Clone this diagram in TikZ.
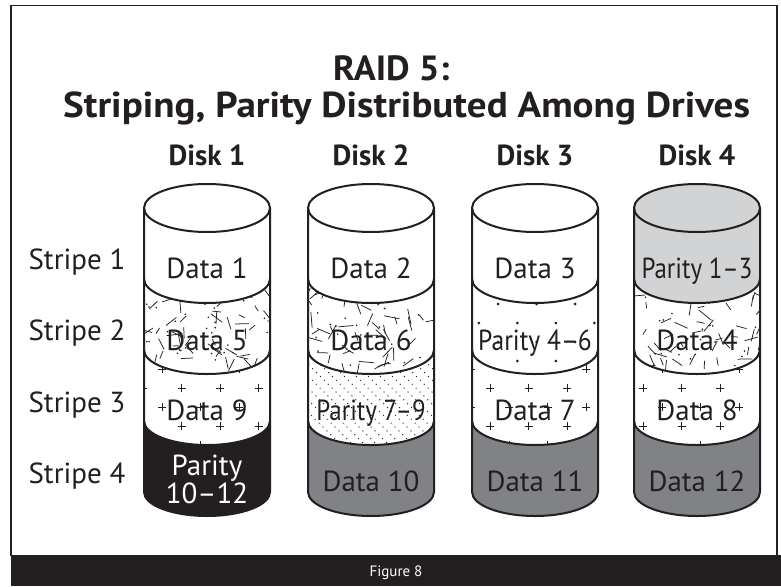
\documentclass[tikz,border=0pt]{standalone}
\usepackage{fontspec}
\setmainfont{PT Sans}
\definecolor{ink}{HTML}{231F20}
\definecolor{midgray}{HTML}{808285}
\definecolor{palegray}{HTML}{D1D3D4}
% fill of the top stripe (includes top ellipse)
\newcommand\topstripe[3]{\fill[#3] (#1-63,-208) arc[start angle=180,end angle=0,x radius=63,y radius=24] -- (#1+63,-#2) arc[start angle=0,end angle=-180,x radius=63,y radius=24] -- cycle;}
\newcommand\midstripe[4]{\fill[#4] (#1-63,-#2) arc[start angle=180,end angle=360,x radius=63,y radius=24] -- (#1+63,-#3) arc[start angle=0,end angle=-180,x radius=63,y radius=24] -- cycle;}
\newcommand\clipmid[3]{\clip (#1-63,-#2) arc[start angle=180,end angle=360,x radius=63,y radius=24] -- (#1+63,-#3) arc[start angle=0,end angle=-180,x radius=63,y radius=24] -- cycle;}
% random short lines and dots
\newcommand\randpat[4]{\begin{scope}\clipmid{#1}{#2}{#3}\pgfmathsetseed{#4}%
 \foreach \i in {1,...,72}{\pgfmathsetmacro\px{#1-68+136*rnd}\pgfmathsetmacro\py{#2-4+(#3-#2+30)*rnd}\pgfmathsetmacro\pa{180*rnd}\pgfmathsetmacro\pl{6+10*rnd}\draw[ink,line width=0.75] (\px,-\py) -- ++(\pa:\pl);}
 \foreach \i in {1,...,34}{\pgfmathsetmacro\px{#1-66+132*rnd}\pgfmathsetmacro\py{#2+(#3-#2+26)*rnd}\fill[ink] (\px,-\py) circle (0.9);}
 \end{scope}}
% staggered plus grid: cx, ytop, ybot, xoffset
\newcommand\pluspat[4]{\begin{scope}\clipmid{#1}{#2}{#3}%
 \foreach \i in {-2,...,2}{\foreach \j in {0,...,3}{%
  \draw[ink,line width=0.7] ({#1+#4+38.5*\i-4},{-(#2+38*\j)}) -- ++(8,0) ({#1+#4+38.5*\i},{-(#2+38*\j)+4}) -- ++(0,-8);
  \draw[ink,line width=0.7] ({#1+#4+38.5*\i+19.25-4},{-(#2+38*\j+19)}) -- ++(8,0) ({#1+#4+38.5*\i+19.25},{-(#2+38*\j+19)+4}) -- ++(0,-8);}}
 \end{scope}}
% staggered dot grid
\newcommand\dotpat[4]{\begin{scope}\clipmid{#1}{#2}{#3}%
 \foreach \i in {-2,...,2}{\foreach \j in {0,...,3}{%
  \fill[ink] ({#1+#4+38.5*\i},{-(#2+25+38*\j)}) circle (1.5);
  \fill[ink] ({#1+#4+38.5*\i+19.25},{-(#2+25+38*\j+19)}) circle (1.5);}}
 \end{scope}}
% diagonal dotted lines
\newcommand\diagpat[3]{\begin{scope}\clipmid{#1}{#2}{#3}%
 \foreach \k in {-10,...,16}{\draw[ink,line width=1,dash pattern=on 1pt off 4.5pt] ({#1-70+12*\k},{-(#2-5)}) -- ++(110,-110);}
 \end{scope}}
\newcommand\outline[1]{%
 \draw[ink,line width=2] (#1,-208) ellipse[x radius=63,y radius=24];
 \draw[ink,line width=2] (#1-63,-208) -- (#1-63,-492) arc[start angle=180,end angle=360,x radius=63,y radius=24] -- (#1+63,-208);
 \foreach \yy in {279,350,421}{\draw[ink,line width=2] (#1-63,-\yy) arc[start angle=180,end angle=360,x radius=63,y radius=24];}}
\begin{document}
\begin{tikzpicture}[x=1pt,y=1pt,
  txt/.style={text=ink,inner sep=0,anchor=base,font=\fontsize{29}{34}\selectfont},
  boldtxt/.style={text=ink,inner sep=0,anchor=base,font=\bfseries\fontsize{29}{34}\selectfont},
  titletxt/.style={text=ink,inner sep=0,anchor=base west,font=\bfseries\fontsize{35}{40}\selectfont}]
\useasboundingbox (0,0) rectangle (781,-586);
\fill[white] (0,0) rectangle (781,-586);
\draw[ink,line width=1.3] (11,-556) -- (11,-5.5) -- (777,-5.5) -- (777,-556);
\fill[ink] (11,-555) rectangle (781,-586);
\node[text=white,inner sep=0,anchor=base,font=\fontsize{15}{18}\selectfont] (fig) at (396,-576) {Figure 8};
% title
\node[titletxt] (t1) at (333,-80) {\scalebox{1.04}[1]{RAID 5:}};
\node[titletxt,font=\bfseries\fontsize{36}{40}\selectfont] (t2) at (63,-117) {\scalebox{1.085}[1]{Striping, Parity Distributed Among Drives}};
% disk labels
\node[boldtxt] (d1) at (207,-165) {Disk 1};
\node[boldtxt] (d2) at (371,-165) {Disk 2};
\node[boldtxt] (d3) at (535,-165) {Disk 3};
\node[boldtxt] (d4) at (697,-165) {Disk 4};
% stripe labels
\node[txt] (s1) at (77,-269) {Stripe 1};
\node[txt] (s2) at (77,-340) {Stripe 2};
\node[txt] (s3) at (77,-412) {Stripe 3};
\node[txt] (s4) at (77,-483) {Stripe 4};
% ---- Disk 1
\topstripe{207}{279}{white}
\midstripe{207}{279}{350}{white}\randpat{207}{279}{350}{11}
\midstripe{207}{350}{421}{white}\pluspat{207}{350}{421}{13}
\midstripe{207}{421}{492}{ink}
\outline{207}
% ---- Disk 2
\topstripe{371}{279}{white}
\midstripe{371}{279}{350}{white}\randpat{371}{279}{350}{27}
\midstripe{371}{350}{421}{white}\diagpat{371}{350}{421}
\midstripe{371}{421}{492}{midgray}
\outline{371}
% ---- Disk 3
\topstripe{535}{279}{white}
\midstripe{535}{279}{350}{white}\dotpat{535}{279}{350}{-37}
\midstripe{535}{350}{421}{white}\pluspat{535}{350}{421}{-45}
\midstripe{535}{421}{492}{midgray}
\outline{535}
% ---- Disk 4
\topstripe{697}{279}{palegray}
\midstripe{697}{279}{350}{white}\randpat{697}{279}{350}{53}
\midstripe{697}{350}{421}{white}\pluspat{697}{350}{421}{-54}
\midstripe{697}{421}{492}{midgray}
\outline{697}
% texts in cylinders
\node[txt] (a1) at (207,-278) {Data 1};
\node[txt] (a5) at (207,-350) {Data 5};
\node[txt] (a9) at (207,-420) {Data 9};
\node[txt,text=white] (p10a) at (207,-475) {Parity};
\node[txt,text=white] (p10b) at (207,-503) {10–12};
\node[txt] (a2) at (371,-278) {Data 2};
\node[txt] (a6) at (371,-350) {Data 6};
\node[txt] (p7) at (371,-420) {\scalebox{0.86}[1]{Parity 7–9}};
\node[txt] (a10) at (371,-491) {Data 10};
\node[txt] (a3) at (535,-278) {Data 3};
\node[txt] (p4) at (535,-350) {\scalebox{0.88}[1]{Parity 4–6}};
\node[txt] (a7) at (535,-420) {Data 7};
\node[txt] (a11) at (535,-491) {Data 11};
\node[txt] (p1) at (697,-278) {\scalebox{0.86}[1]{Parity 1–3}};
\node[txt] (a4) at (697,-350) {Data 4};
\node[txt] (a8) at (697,-420) {Data 8};
\node[txt] (a12) at (697,-491) {Data 12};
\end{tikzpicture}
\end{document}
